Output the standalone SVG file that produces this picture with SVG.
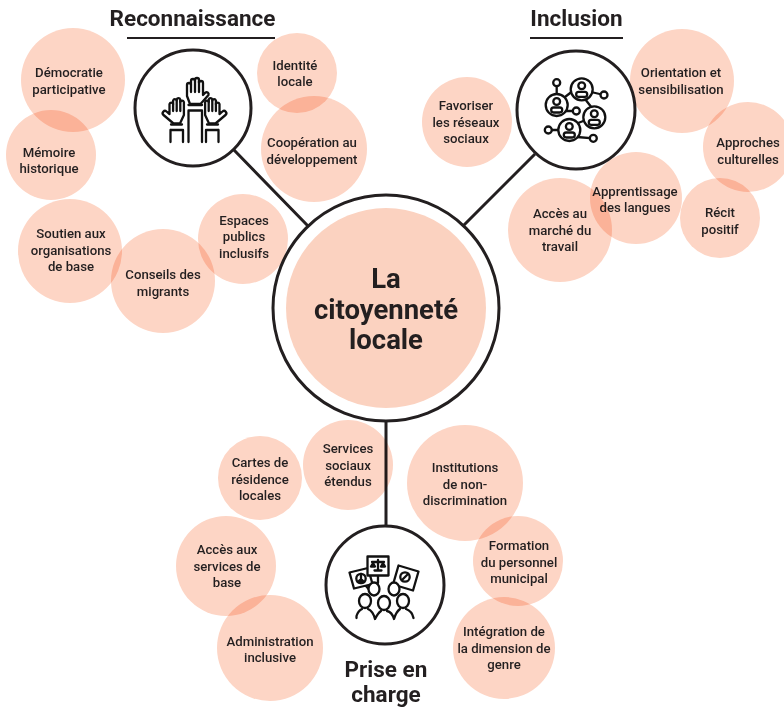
<svg xmlns="http://www.w3.org/2000/svg" width="784" height="710" viewBox="0 0 784 710">
<style>
.b{fill:#fdd5c5;mix-blend-mode:multiply}
.t{font:500 13.200px Roboto,"Liberation Sans",sans-serif;fill:#231f20;text-anchor:middle}
.h{font:700 22.500px Roboto,"Liberation Sans",sans-serif;fill:#231f20;text-anchor:middle}
.c{font:700 27.500px Roboto,"Liberation Sans",sans-serif;fill:#231f20;text-anchor:middle}
.l{fill:none;stroke:#231f20;stroke-width:3}
.u{fill:none;stroke:#231f20;stroke-width:2}
.r{fill:#fff;stroke:#231f20;stroke-width:3}
.i{fill:#fff;stroke:#111;stroke-width:2.300;stroke-linejoin:round;stroke-linecap:round}
.n{fill:none;stroke:#111;stroke-width:2.300;stroke-linejoin:round;stroke-linecap:round}
</style>
<defs>
<g id="side-hand">
<path class="i" d="M173.500 123.500L163.500 115a2.100 2.100 0 0 1 3-3.500l3 2.500V104a1.900 1.900 0 0 1 3.600 0V100.500a1.900 1.900 0 0 1 3.600 0V99.500a1.900 1.900 0 0 1 3.600 0V102a1.900 1.900 0 0 1 3.600 0V115L180 123.500Z"/>
<path class="n" d="M173.100 104V111M176.700 101V111M180.300 101V111" stroke-width="1.500"/>
<path class="n" d="M171 124.500H182M171 130H182M170.500 130V142M183 130V142"/>
</g>
<g id="person">
<circle class="i" cx="0" cy="0" r="11"/>
<circle class="i" cx="0" cy="-3.500" r="3.400"/>
<rect class="i" x="-5.500" y="2.500" width="11" height="5" rx="2.400"/>
</g>
</defs>
<rect width="784" height="710" fill="#fff"/>
<g id="connectors">
<path class="l" d="M234 150L308 226M535 154L463 226M386 420V527"/>
</g>
<g id="center">
<circle class="r" cx="386" cy="308" r="113"/>
<circle cx="386" cy="308" r="100" fill="#fbd2c0"/>
<text class="c" x="386" y="288">La</text>
<text class="c" x="386" y="319">citoyenneté</text>
<text class="c" x="386" y="349">locale</text>
</g>
<g id="bubble-democratie"><circle class="b" cx="73" cy="80" r="52"/><text class="t" x="69" y="77">Démocratie</text><text class="t" x="69" y="94">participative</text></g>
<g id="bubble-memoire"><circle class="b" cx="51" cy="155" r="45"/><text class="t" x="49" y="157">Mémoire</text><text class="t" x="49" y="173">historique</text></g>
<g id="bubble-soutien"><circle class="b" cx="70" cy="251" r="52"/><text class="t" x="71" y="238">Soutien aux</text><text class="t" x="71" y="255">organisations</text><text class="t" x="71" y="271">de base</text></g>
<g id="bubble-conseils"><circle class="b" cx="163" cy="281" r="52"/><text class="t" x="163" y="279">Conseils des</text><text class="t" x="163" y="296">migrants</text></g>
<g id="bubble-espaces"><circle class="b" cx="243" cy="239" r="45"/><text class="t" x="244" y="225">Espaces</text><text class="t" x="244" y="241">publics</text><text class="t" x="244" y="258">inclusifs</text></g>
<g id="bubble-identite"><circle class="b" cx="297" cy="73" r="40"/><text class="t" x="295" y="70">Identité</text><text class="t" x="295" y="86">locale</text></g>
<g id="bubble-cooperation"><circle class="b" cx="314" cy="149" r="53"/><text class="t" x="312" y="147">Coopération au</text><text class="t" x="312" y="164">développement</text></g>
<g id="bubble-favoriser"><circle class="b" cx="467" cy="122" r="45"/><text class="t" x="466" y="110">Favoriser</text><text class="t" x="466" y="127">les réseaux</text><text class="t" x="466" y="143">sociaux</text></g>
<g id="bubble-orientation"><circle class="b" cx="682" cy="81" r="52"/><text class="t" x="681" y="77">Orientation et</text><text class="t" x="681" y="94">sensibilisation</text></g>
<g id="bubble-approches"><circle class="b" cx="748" cy="147" r="45"/><text class="t" x="748" y="147">Approches</text><text class="t" x="748" y="164">culturelles</text></g>
<g id="bubble-apprentissage"><circle class="b" cx="636" cy="198" r="46"/><text class="t" x="635" y="196">Apprentissage</text><text class="t" x="635" y="212">des langues</text></g>
<g id="bubble-recit"><circle class="b" cx="720" cy="218" r="40"/><text class="t" x="720" y="217">Récit</text><text class="t" x="720" y="234">positif</text></g>
<g id="bubble-acces-marche"><circle class="b" cx="560" cy="230" r="52"/><text class="t" x="560" y="218">Accès au</text><text class="t" x="560" y="235">marché du</text><text class="t" x="560" y="251">travail</text></g>
<g id="bubble-cartes"><circle class="b" cx="260" cy="478" r="42"/><text class="t" x="260" y="467">Cartes de</text><text class="t" x="260" y="484">résidence</text><text class="t" x="260" y="500">locales</text></g>
<g id="bubble-services"><circle class="b" cx="348" cy="465" r="45"/><text class="t" x="348" y="453">Services</text><text class="t" x="348" y="470">sociaux</text><text class="t" x="348" y="486">étendus</text></g>
<g id="bubble-institutions"><circle class="b" cx="465" cy="483" r="58"/><text class="t" x="465" y="472">Institutions</text><text class="t" x="465" y="489">de non-</text><text class="t" x="465" y="505">discrimination</text></g>
<g id="bubble-formation"><circle class="b" cx="518" cy="561" r="45"/><text class="t" x="519" y="550">Formation</text><text class="t" x="519" y="567">du personnel</text><text class="t" x="519" y="583">municipal</text></g>
<g id="bubble-integration"><circle class="b" cx="504" cy="648" r="51"/><text class="t" x="504" y="636">Intégration de</text><text class="t" x="504" y="653">la dimension de</text><text class="t" x="504" y="669">genre</text></g>
<g id="bubble-acces-services"><circle class="b" cx="226" cy="566" r="50"/><text class="t" x="227" y="554">Accès aux</text><text class="t" x="227" y="571">services de</text><text class="t" x="227" y="587">base</text></g>
<g id="bubble-administration"><circle class="b" cx="270" cy="648" r="53"/><text class="t" x="270" y="646">Administration</text><text class="t" x="270" y="662">inclusive</text></g>

<g id="reconnaissance">
<text class="h" x="192.500" y="26">Reconnaissance</text>
<path class="u" d="M127 38H275"/>
<circle class="r" cx="193" cy="108" r="58"/>
<g>
<path class="i" d="M190 104L187 96V85a2 2 0 0 1 4 0V81a2 2 0 0 1 4 0V80a2 2 0 0 1 4 0V83a2 2 0 0 1 4 0V95l2.500-2.500a2.100 2.100 0 0 1 3 2.500L200.500 104Z"/>
<path class="n" d="M191 85V92M195 81V92M199 81V92" stroke-width="1.500"/>
<path class="n" d="M188.500 105H202M188.500 110.500H202M188.500 111V142M202 111V142"/>
<use href="#side-hand"/>
<use href="#side-hand" transform="matrix(-1 0 0 1 389 0)"/>
</g>
</g>

<g id="inclusion">
<text class="h" x="576.500" y="26">Inclusion</text>
<path class="u" d="M530 38H623"/>
<circle class="r" cx="576" cy="110" r="59"/>
<g>
<path class="n" d="M556.700 83V94M565 97L574 90M591 92L604 95M565 111L576.300 111M585 99L592 108M548.300 130H559M577 137L593.300 138.300M578 123L586 120"/>
<circle class="i" cx="556.700" cy="82.700" r="3.500"/><circle class="i" cx="604" cy="95" r="3.500"/><circle class="i" cx="576.300" cy="111" r="3.500"/><circle class="i" cx="548.300" cy="130" r="3.500"/><circle class="i" cx="593.300" cy="138.300" r="3.500"/>
<use href="#person" x="556.700" y="105"/>
<use href="#person" x="581.700" y="89.300"/>
<use href="#person" x="594.300" y="117.300"/>
<use href="#person" x="569.300" y="130"/>
</g>
</g>

<g id="prise-en-charge">
<circle class="r" cx="385" cy="585" r="59"/>
<g>
<path class="n" d="M378 575V583M366 586L372 593M398 584L396 589"/>
<path class="i" d="M349.500 572.500L368 568L372.500 584L354 588.500Z"/>
<rect class="i" x="367.500" y="556.500" width="21" height="19"/>
<path class="i" d="M398.500 565.500L418.500 571.500L413 590.500L393 584.500Z"/>
<circle class="n" cx="361" cy="578.500" r="4.700" stroke-width="1.600"/><path class="n" d="M361 574V583M361 579L357.800 582M361 579L364.200 582" stroke-width="1.200"/>
<path class="n" d="M372 562H384M378 560V570M374.500 570.500H381.500M373 563L371 566.500H375ZM383 563L381 566.500H385Z" stroke-width="1.500"/>
<circle class="n" cx="405" cy="577" r="4.700"/><path class="n" d="M402 580L408 574"/>
<ellipse class="i" cx="374" cy="589" rx="5.500" ry="6.500"/><ellipse class="i" cx="394" cy="589" rx="5.500" ry="6.500"/>
<ellipse class="i" cx="365" cy="601" rx="6" ry="7"/><ellipse class="i" cx="384" cy="603" rx="6" ry="7"/><ellipse class="i" cx="403" cy="601" rx="6" ry="7"/>
<path class="n" d="M356.500 618V616Q358 611 362 609M368 609Q373 611 375 619Q378 613 381 611M387 611Q392 612 394 619Q396 612 400 609M406 609Q412 611 413.500 618"/>
</g>
<text class="h" x="386" y="677">Prise en</text>
<text class="h" x="386" y="702">charge</text>
</g>
</svg>
